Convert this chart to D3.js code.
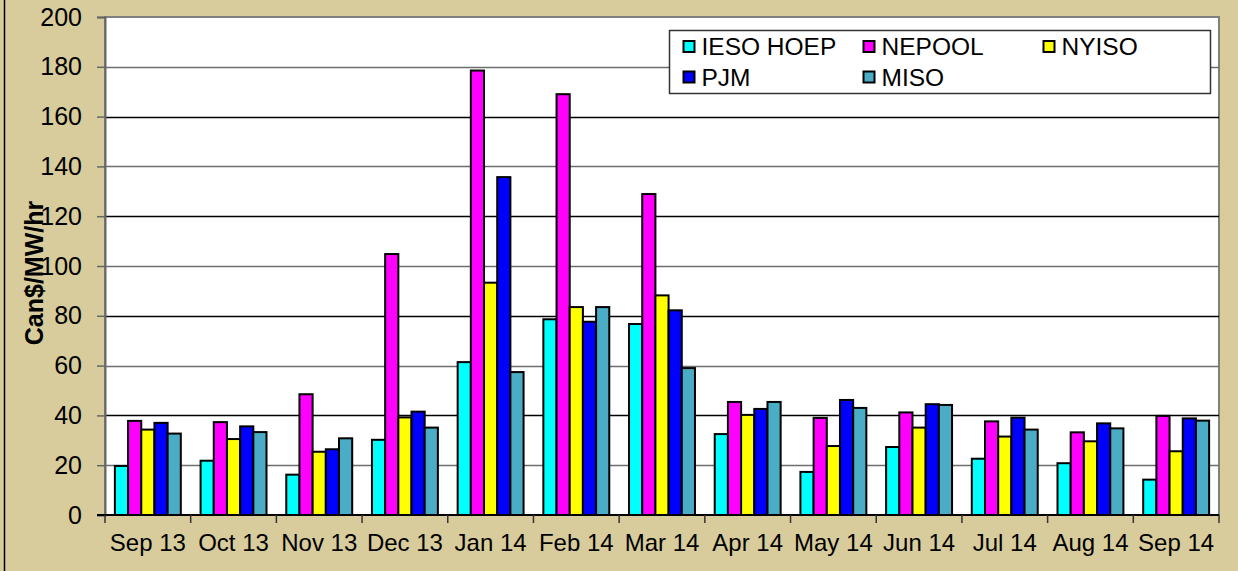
<!DOCTYPE html>
<html>
<head>
<meta charset="utf-8">
<script src="https://cdn.jsdelivr.net/npm/d3@7"></script>
<style>
  body { margin: 0; background: #D8CC9C; }
  svg { display: block; font-family: "Liberation Sans", Arial, sans-serif; }
</style>
</head>
<body>
<svg id="chart"></svg>
<script>
// month categories
const months = ["Sep 13", "Oct 13", "Nov 13", "Dec 13", "Jan 14", "Feb 14", "Mar 14",
                "Apr 14", "May 14", "Jun 14", "Jul 14", "Aug 14", "Sep 14"];

// series values, Can$/MW/hr
const ieso   = [19.7, 21.8, 16.2, 30.2, 61.4, 78.6, 76.7, 32.5, 17.3, 27.3, 22.6, 20.8, 14.2];
const nepool = [37.8, 37.3, 48.5, 104.8, 178.5, 169.0, 128.9, 45.4, 39.0, 41.2, 37.6, 33.2, 39.8];
const nyiso  = [34.3, 30.5, 25.4, 39.2, 93.3, 83.5, 88.2, 40.2, 27.7, 35.1, 31.5, 29.6, 25.6];
const pjm    = [37.0, 35.6, 26.4, 41.5, 135.7, 77.6, 82.2, 42.6, 46.2, 44.5, 39.1, 36.8, 38.8];
const miso   = [32.7, 33.3, 30.8, 35.1, 57.4, 83.5, 59.0, 45.4, 43.0, 44.2, 34.3, 34.8, 37.9];

const seriesNames = ["IESO HOEP", "NEPOOL", "NYISO", "PJM", "MISO"];
const seriesColors = ["#00FFFF", "#FF00FF", "#FFFF00", "#0000FF", "#4BACC6"];
const yTicks = [0, 20, 40, 60, 80, 100, 120, 140, 160, 180, 200];

const width = 1238, height = 571;
const padding = { top: 17, right: 19, bottom: 56, left: 105 };

const svg = d3.select("#chart")
    .attr("width", width)
    .attr("height", height);

// outer frame line on the left
svg.append("line")
    .attr("x1", 4.5).attr("x2", 4.5)
    .attr("y1", 0).attr("y2", height)
    .attr("stroke", "#000")
    .attr("stroke-width", 1.5);

const allSeries = [ieso, nepool, nyiso, pjm, miso];
const data = months.map((m, i) => ({
    month: m,
    values: allSeries.map((s, j) => ({ key: seriesNames[j], value: s[i], idx: j }))
}));

const xScale = d3.scaleBand()
    .domain(months)
    .range([padding.left, width - padding.right]);

const xInner = d3.scaleBand()
    .domain(seriesNames)
    .range([0, xScale.bandwidth()])
    .paddingOuter(0.75);

const yScale = d3.scaleLinear()
    .domain([0, 200])
    .range([height - padding.bottom, padding.top]);

// plot area background
svg.append("rect")
    .attr("x", padding.left)
    .attr("y", padding.top)
    .attr("width", width - padding.left - padding.right)
    .attr("height", height - padding.top - padding.bottom)
    .attr("fill", "#fff")
    .attr("stroke", "#808080")
    .attr("stroke-width", 2);

// gridlines
svg.append("g")
    .selectAll("line")
    .data(yTicks.slice(1, -1))
    .join("line")
        .attr("x1", padding.left)
        .attr("x2", width - padding.right)
        .attr("y1", d => Math.round(yScale(d)) + 0.5)
        .attr("y2", d => Math.round(yScale(d)) + 0.5)
        .attr("stroke", (d, i) => i % 2 ? "#000" : "#6e6e6e")
        .attr("stroke-width", 1.5);

// y axis
const yAxis = d3.axisLeft(yScale)
    .tickValues(yTicks)
    .tickSize(8)
    .tickPadding(15);

svg.append("g")
    .attr("transform", `translate(${padding.left},0)`)
    .call(yAxis)
    .call(g => g.select(".domain").attr("stroke", "#666").attr("stroke-width", 2))
    .call(g => g.selectAll(".tick line").attr("stroke", "#666").attr("stroke-width", 1.5))
    .call(g => g.selectAll("text").attr("font-size", 25).attr("fill", "#000")
        .attr("font-family", "Liberation Sans, Arial, sans-serif"));

// bars
const groups = svg.append("g")
    .selectAll("g")
    .data(data)
    .join("g")
        .attr("transform", d => `translate(${xScale(d.month)},0)`);

groups.selectAll("rect")
    .data(d => d.values)
    .join("rect")
        .attr("x", d => xInner(d.key))
        .attr("y", d => yScale(d.value))
        .attr("width", xInner.bandwidth())
        .attr("height", d => yScale(0) - yScale(d.value))
        .attr("fill", d => seriesColors[d.idx])
        .attr("stroke", "#000")
        .attr("stroke-width", 2);

// x axis with ticks at category boundaries
const xAxisG = svg.append("g")
    .attr("transform", `translate(0,${yScale(0)})`);

xAxisG.append("line")
    .attr("x1", padding.left - 8)
    .attr("x2", width - padding.right)
    .attr("stroke", "#000")
    .attr("stroke-width", 2);

const boundaries = months.map(m => xScale(m)).concat([width - padding.right]);
xAxisG.selectAll(".xtick")
    .data(boundaries)
    .join("line")
        .classed("xtick", true)
        .attr("x1", d => d).attr("x2", d => d)
        .attr("y1", 0).attr("y2", 8)
        .attr("stroke", "#333")
        .attr("stroke-width", 1.5);

xAxisG.selectAll(".xlabel")
    .data(months)
    .join("text")
        .classed("xlabel", true)
        .attr("x", d => xScale(d) + xScale.bandwidth() / 2)
        .attr("y", 36)
        .attr("text-anchor", "middle")
        .attr("font-size", 24)
        .text(d => d);

// y axis title
svg.append("text")
    .attr("transform", "rotate(-90)")
    .attr("x", -273)
    .attr("y", 43)
    .attr("text-anchor", "middle")
    .attr("font-size", 25)
    .attr("font-weight", "bold")
    .text("Can$/MW/hr");

// legend
const legend = svg.append("g")
    .attr("transform", "translate(669.5,30.5)");

legend.append("rect")
    .attr("width", 541)
    .attr("height", 63)
    .attr("fill", "#fff")
    .attr("stroke", "#333")
    .attr("stroke-width", 1.5);

const legendItems = legend.selectAll(".item")
    .data(seriesNames)
    .join("g")
        .classed("item", true)
        .attr("transform", (d, i) => `translate(${14 + (i % 3) * 180},${i < 3 ? 16 : 46.5})`);

legendItems.append("rect")
    .attr("x", 0)
    .attr("y", -5.5)
    .attr("width", 11)
    .attr("height", 11)
    .attr("fill", (d, i) => seriesColors[i])
    .attr("stroke", "#000")
    .attr("stroke-width", 2);

legendItems.append("text")
    .attr("x", 18)
    .attr("dy", "0.36em")
    .attr("font-size", 24.5)
    .text(d => d);
</script>
</body>
</html>
